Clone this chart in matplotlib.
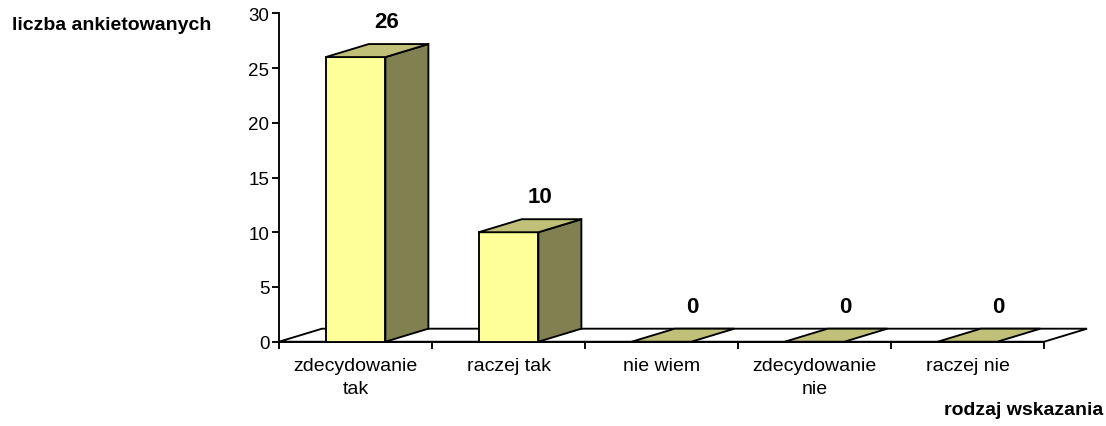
import matplotlib
matplotlib.use("Agg")
import matplotlib.pyplot as plt
from matplotlib.patches import Polygon
import numpy as np

plt.rcParams["font.family"] = ["Liberation Sans", "DejaVu Sans"]

# ── data ──────────────────────────────────────────────────────────────────────
categories = ["zdecydowanie\ntak", "raczej tak", "nie wiem", "zdecydowanie\nnie", "raczej nie"]
counts = [26, 10, 0, 0, 0]
y_ticks = [0, 5, 10, 15, 20, 25, 30]
y_label = "liczba ankietowanych"
x_label = "rodzaj wskazania"

# ── style ─────────────────────────────────────────────────────────────────────
FRONT = "#FFFF99"
SIDE = "#808050"
TOP = "#C0C078"
BAR_W = 0.39          # front face width, in category units
DX, DY = 0.281, 1.19  # 3-D depth offset (category units, value units)
LW = 1.35

fig = plt.figure(figsize=(11.06, 4.27), dpi=100)
ax = fig.add_axes([0.2523, 0.1974, 0.6917, 0.7691])
n = len(categories)
ax.set_xlim(0, n)
ax.set_ylim(0, 30)

# floor
floor = Polygon([(0, 0), (n, 0), (n + DX, DY), (DX, DY)], closed=True,
                facecolor="white", edgecolor="black", linewidth=LW,
                clip_on=False, zorder=1)
ax.add_patch(floor)

# bars
for i, v in enumerate(counts):
    x0 = i + 0.5 - BAR_W / 2
    x1 = x0 + BAR_W
    if v > 0:
        front = Polygon([(x0, 0), (x1, 0), (x1, v), (x0, v)], closed=True,
                        facecolor=FRONT, edgecolor="black", linewidth=LW,
                        clip_on=False, zorder=3)
        side = Polygon([(x1, 0), (x1 + DX, DY), (x1 + DX, v + DY), (x1, v)], closed=True,
                       facecolor=SIDE, edgecolor="black", linewidth=LW,
                       clip_on=False, zorder=3)
        ax.add_patch(side)
        ax.add_patch(front)
    top = Polygon([(x0, v), (x1, v), (x1 + DX, v + DY), (x0 + DX, v + DY)], closed=True,
                  facecolor=TOP, edgecolor="black", linewidth=LW,
                  clip_on=False, zorder=3)
    ax.add_patch(top)
    ax.annotate(str(v), xy=(i + 0.5 + DX / 2, v + DY), xytext=(7, 16),
                textcoords="offset points", ha="center", va="center",
                fontsize=16, fontweight="bold", annotation_clip=False, zorder=5)

# axes
for s in ["top", "right"]:
    ax.spines[s].set_visible(False)
for s in ["left", "bottom"]:
    ax.spines[s].set_linewidth(LW)
    ax.spines[s].set_zorder(2)

ax.set_yticks(y_ticks)
ax.set_yticklabels([str(t) for t in y_ticks])
ax.tick_params(axis="y", direction="out", length=5, width=LW, pad=2, labelsize=13.5)

ax.set_xticks(np.arange(n + 1))
ax.set_xticklabels([])
ax.tick_params(axis="x", which="major", direction="out", length=5, width=LW)
ax.set_xticks(np.arange(n) + 0.5, minor=True)
ax.set_xticklabels(categories, minor=True, fontsize=14, linespacing=1.45)
ax.tick_params(axis="x", which="minor", length=0, pad=11)

fig.text(12 / 1106, 1 - 26 / 427, y_label, ha="left", va="center",
         fontsize=14, fontweight="bold")
fig.text(1103 / 1106, 1 - 411 / 427, x_label, ha="right", va="center",
         fontsize=14, fontweight="bold")

fig.savefig("out.png", dpi=100)
